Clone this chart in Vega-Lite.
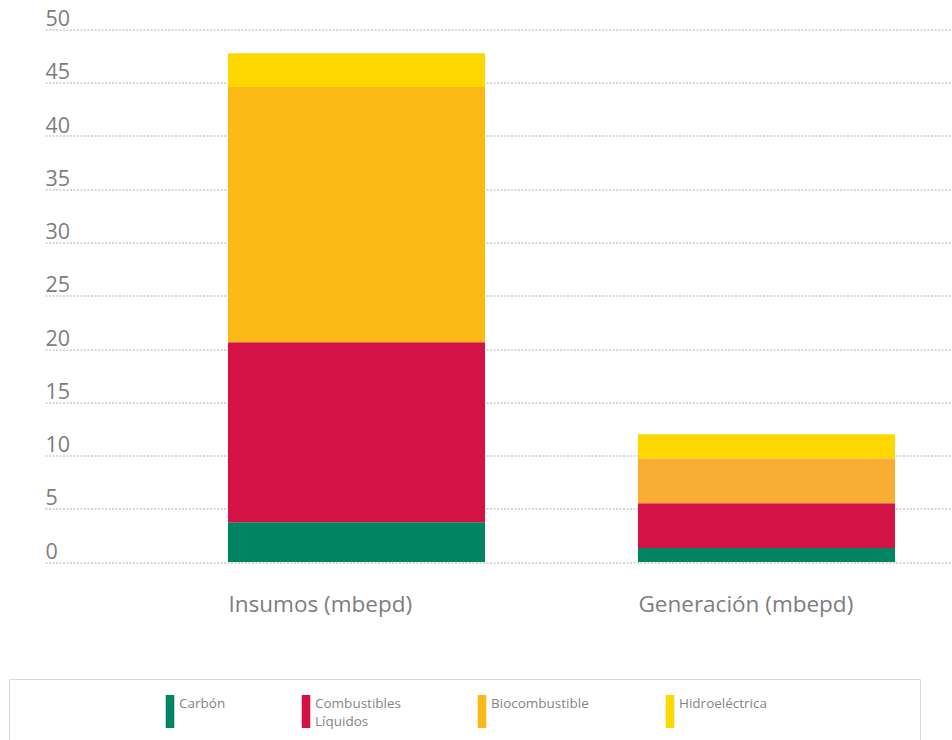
{
  "$schema": "https://vega.github.io/schema/vega-lite/v6.json",
  "autosize": {"type": "none"},
  "padding": {"left": 45, "top": 29.5, "right": 0, "bottom": 178},
  "width": 907,
  "height": 532.5,
  "background": "white",
  "config": {"view": {"stroke": null}, "font": "Open Sans", "style": {"guide-label": {"lineHeight": 17.5, "dy": -3.5}}},
  "data": {
    "values": [
      {"cat": "Insumos (mbepd)", "fuel": "Carbón", "value": 3.73},
      {"cat": "Insumos (mbepd)", "fuel": "Combustibles Líquidos", "value": 16.9},
      {"cat": "Insumos (mbepd)", "fuel": "Biocombustible", "value": 23.97},
      {"cat": "Insumos (mbepd)", "fuel": "Hidroeléctrica", "value": 3.17},
      {"cat": "Generación (mbepd)", "fuel": "Carbón", "value": 1.31},
      {"cat": "Generación (mbepd)", "fuel": "Combustibles Líquidos", "value": 4.2},
      {"cat": "Generación (mbepd)", "fuel": "Biocombustible", "value": 4.23},
      {"cat": "Generación (mbepd)", "fuel": "Hidroeléctrica", "value": 2.25}
    ]
  },
  "transform": [
    {"calculate": "indexof(['Carbón','Combustibles Líquidos','Biocombustible','Hidroeléctrica'], datum.fuel)", "as": "ord"}
  ],
  "mark": {"type": "bar"},
  "encoding": {
    "x": {
      "field": "cat", "type": "nominal", "sort": null,
      "scale": {"paddingInner": 0.373, "paddingOuter": 0.2926, "align": 0.7625},
      "axis": {"title": null, "domain": false, "ticks": false, "labelAngle": 0, "labelPadding": 34.5,
        "labelAlign": "left", "labelOffset": -128, "labelLimit": 500,
        "labelFontSize": 22.5, "labelColor": "#7d7d7f", "labelFont": "Open Sans"}
    },
    "y": {
      "field": "value", "type": "quantitative", "stack": "zero",
      "scale": {"domain": [0, 50], "nice": false},
      "axis": {"title": null, "values": [0,5,10,15,20,25,30,35,40,45,50], "domain": false, "ticks": false,
        "labelAlign": "left", "labelBaseline": "alphabetic", "labelOffset": -0.5, "labelPadding": 0,
        "labelFontSize": 21.5, "labelColor": "#7d7d7f", "labelFont": "Open Sans", "labelOverlap": false,
        "grid": true, "gridColor": "#b0b0b0", "gridDash": [2, 1.5], "gridWidth": 1}
    },
    "order": {"field": "ord", "type": "quantitative"},
    "fill": {
      "condition": {"test": "datum.cat === 'Generación (mbepd)' && datum.fuel === 'Biocombustible'", "value": "#F9AE33"},
      "field": "fuel", "type": "nominal",
      "scale": {"domain": ["Carbón", "Combustibles Líquidos", "Biocombustible", "Hidroeléctrica"],
                "range": ["#008462", "#D31245", "#FBB917", "#FED700"]},
      "legend": {
        "orient": "none", "legendX": -36, "legendY": 649.5, "direction": "horizontal",
        "title": " ", "titleOrient": "left", "titlePadding": 128.5, "titleFontSize": 11,
        "padding": 16, "strokeColor": "#d9d9d9",
        "symbolType": "M-0.26,-1h0.52v2h-0.52z", "symbolSize": 1089, "symbolStrokeWidth": 0,
        "columnPadding": 64,
        "labelFontSize": 13.5, "labelColor": "#858585", "labelFont": "Open Sans", "labelBaseline": "alphabetic",
        "labelOffset": -7.5, "labelLimit": 400,
        "labelExpr": "datum.label == 'Combustibles Líquidos' ? ['Combustibles', 'Líquidos'] : datum.label == 'Hidroeléctrica' ? 'Hidroeléctrica\u00a0\u00a0\u00a0\u00a0\u00a0\u00a0\u00a0\u00a0\u00a0\u00a0\u00a0\u00a0\u00a0\u00a0\u00a0\u00a0\u00a0\u00a0\u00a0\u00a0\u00a0\u00a0\u00a0\u00a0\u00a0\u00a0\u00a0\u00a0\u00a0\u00a0\u00a0\u00a0\u00a0\u00a0\u00a0\u00a0\u00a0\u00a0\u00a0\u200b' : datum.label"
      }
    }
  }
}
